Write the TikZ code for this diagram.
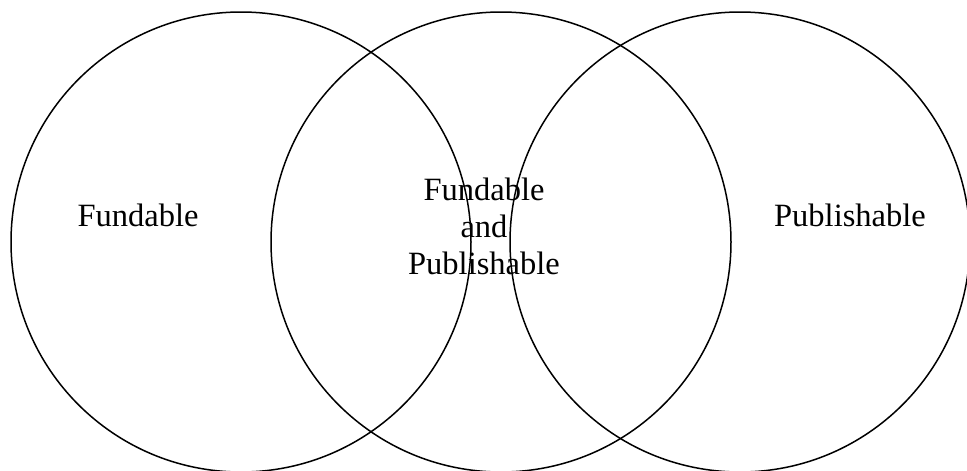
\documentclass[tikz,border=0pt]{standalone}
\usepackage{fontspec}
\setmainfont{Liberation Serif}
\begin{document}
\begin{tikzpicture}[x=1pt,y=-1pt,
  ring/.style={draw=black, line width=1.5pt},
  lbl/.style={font=\fontsize{32.5}{37}\selectfont, align=center, inner sep=0pt}]
\useasboundingbox (0,0) rectangle (967,471);
\begin{scope}
\clip (0,0) rectangle (967,471);
\node[ring, circle, minimum size=460pt, inner sep=0pt] (c1) at (241,242) {};
\node[ring, circle, minimum size=460pt, inner sep=0pt] (c2) at (501,242) {};
\node[ring, circle, minimum size=460pt, inner sep=0pt] (c3) at (740,242) {};
\end{scope}
\node[lbl, anchor=base] (t1) at (138,226) {Fundable};
\node[lbl, anchor=base] (t3) at (850,226) {Publishable};
\node[lbl, anchor=north] (t2) at (484,178) {Fundable\\and\\Publishable};
\end{tikzpicture}
\end{document}
